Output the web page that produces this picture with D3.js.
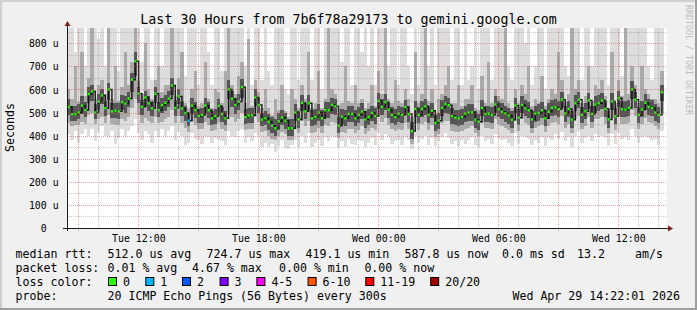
<!DOCTYPE html>
<html>
<head>
<meta charset="utf-8">
<script src="https://cdn.jsdelivr.net/npm/d3@7"></script>
<style>
  body { margin: 0; background: #f0f0f0; }
  svg text { font-family: "DejaVu Sans Mono", monospace; fill: #000; }
</style>
</head>
<body>
<div id="chart"></div>
<script>
// median rtt per 10 minute step (us), from Tue 08:26
const medianUs = [
  525,493,493,500,530,511,580,591,500,548, 574,519,600,505,508,505,545,539,560,642,
  722,582,525,565,540,519,581,510,532,542, 560,617,520,570,518,498,465,530,511,485,
  490,530,510,475,484,528,494,475,600,560, 533,547,610,480,487,488,565,533,469,475,
  460,443,432,462,478,465,432,432,500,470, 542,505,540,475,480,500,475,510,510,533,
  527,443,482,475,494,494,475,490,504,470, 480,498,485,550,525,545,512,490,480,495,
  490,523,494,420,515,490,515,527,490,508, 455,465,520,537,532,485,478,475,480,495,
  500,501,469,460,520,494,495,490,535,515, 504,496,487,469,530,478,533,518,510,470,
  495,498,510,475,503,520,523,515,556,496, 515,469,540,556,490,505,552,494,535,540,
  552,516,470,548,484,562,515,513,520,600, 556,490,513,542,525,520,500,490,588
];
// smoke: slowest ping per step
const pingMax = [
  900,900,760,900,900,700,900,900,900,820, 900,700,900,900,900,680,900,900,900,900,
  900,900,720,900,900,640,900,900,700,900, 900,900,900,900,900,660,900,900,900,620,
  900,900,760,620,900,900,680,900,900,900, 900,900,900,700,900,620,900,900,640,900,
  680,620,900,900,900,600,580,900,900,640, 900,900,900,640,900,900,600,900,900,900,
  900,900,720,900,900,620,900,900,760,900, 700,900,620,900,900,900,700,900,900,620,
  900,900,700,580,900,620,900,900,700,900, 620,900,900,900,900,640,900,900,620,900,
  640,700,900,600,900,900,900,640,900,900, 900,900,700,640,900,900,900,800,900,620,
  700,900,900,600,900,900,900,900,900,700, 660,900,900,900,640,900,900,700,900,900,
  900,900,620,900,900,900,660,900,900,900, 900,900,900,900,700,640,900,900,900
];
const ping90 = [
  600,560,700,545,760,570,650,880,560,620, 640,580,900,560,700,550,610,760,620,720,
  900,640,580,800,600,560,640,700,590,620, 620,880,570,650,760,540,520,600,680,530,
  540,720,560,520,600,590,540,680,900,620, 580,660,720,540,820,530,640,590,520,600,
  520,490,560,510,620,505,480,600,560,520, 620,560,760,520,540,680,520,560,900,600,
  580,520,540,700,550,540,620,540,560,520, 540,620,530,680,580,880,560,540,640,550,
  540,600,560,480,760,540,580,900,550,600, 500,560,580,620,700,540,540,620,530,560,
  560,620,520,510,660,540,720,540,600,570, 560,880,540,520,600,540,620,580,700,530,
  560,540,660,530,560,600,580,760,640,550, 580,900,600,640,540,570,700,550,620,600,
  640,570,520,760,540,640,570,880,580,700, 620,540,700,600,580,560,560,540,680
];
const ping75 = [
  560,530,530,535,570,545,610,620,535,580, 600,550,630,540,540,540,575,570,590,670,
  760,610,555,595,570,550,610,545,565,575, 595,650,555,600,550,530,500,565,545,515,
  520,565,545,505,515,560,525,505,640,595, 565,580,645,515,520,520,600,565,500,505,
  495,480,470,500,510,500,470,470,535,505, 575,540,575,510,515,535,510,545,545,565,
  560,480,515,510,530,530,510,525,540,505, 515,530,520,585,560,580,545,525,515,530,
  525,555,530,460,550,525,550,560,525,540, 490,500,555,570,565,520,510,510,515,530,
  535,535,505,495,555,530,530,525,570,550, 540,530,520,505,565,515,570,555,545,505,
  530,535,545,510,540,555,560,550,590,530, 550,505,575,590,525,540,585,530,570,575,
  585,550,505,585,520,595,550,550,555,635, 590,525,550,580,560,555,535,525,620
];
const ping25 = [
  490,465,465,470,495,480,540,550,470,510, 535,485,555,475,475,470,510,500,525,590,
  660,540,490,525,505,485,540,480,500,505, 525,575,485,535,485,465,440,495,475,455,
  455,495,475,445,450,490,460,445,560,525, 495,510,565,450,455,455,530,500,440,445,
  425,410,400,425,445,430,400,400,465,435, 505,470,505,440,445,465,440,475,475,495,
  490,410,445,440,460,460,440,455,470,435, 445,465,450,515,490,510,475,455,445,460,
  455,490,460,385,480,455,480,490,455,475, 420,430,485,500,495,450,445,440,445,460,
  465,465,435,425,485,460,460,455,500,480, 470,460,450,435,495,445,500,485,475,435,
  460,465,475,440,470,485,490,480,520,460, 480,435,505,520,455,470,515,460,500,505,
  515,480,435,510,450,525,480,480,485,560, 520,455,480,510,490,485,465,455,550
];
const ping10 = [
  455,440,445,445,460,450,490,500,450,470, 480,455,490,450,445,445,470,465,480,520,
  560,490,455,475,465,455,480,455,460,470, 480,510,455,485,455,435,415,460,445,430,
  430,460,445,420,425,455,430,420,500,480, 460,470,500,425,430,430,480,460,415,420,
  400,385,380,400,415,405,380,380,430,410, 465,440,465,410,415,435,410,445,440,460,
  455,390,415,410,430,430,410,425,440,405, 420,435,425,480,460,475,445,430,420,430,
  425,455,430,365,450,425,450,460,425,445, 395,405,455,465,465,420,415,415,420,430,
  435,440,410,400,455,435,435,430,470,450, 440,435,425,410,465,420,470,455,445,410,
  435,440,445,415,440,455,460,450,485,435, 450,410,470,485,430,440,480,435,470,470,
  480,450,410,475,425,490,450,450,455,510, 485,430,450,475,460,455,440,430,500
];
const pingMin = [
  405,380,420,370,405,430,400,430,375,410, 440,400,395,420,365,390,430,400,420,440,
  470,410,380,420,405,370,420,395,430,400, 420,440,380,415,400,360,370,410,385,380,
  365,400,395,370,390,380,375,360,420,400, 395,420,430,370,395,375,410,400,350,370,
  350,365,330,355,380,345,340,360,380,350, 400,370,410,350,370,380,355,395,375,400,
  395,345,375,350,385,365,360,380,375,350, 370,390,360,410,380,405,395,365,375,380,
  360,395,380,340,400,370,385,400,360,390, 355,375,395,410,390,365,375,355,380,365,
  380,395,360,350,400,375,385,365,405,390, 380,385,370,355,410,365,400,395,385,360,
  380,370,395,355,390,380,405,385,415,375, 395,350,400,420,370,390,400,375,405,395,
  400,390,355,405,365,410,385,395,380,430, 400,370,395,400,390,380,385,360,420
];
// steps with lost pings
const lossSteps = [36];
const lossCounts = [1];

const yMajorTicks = [0, 100, 200, 300, 400, 500, 600, 700, 800];
const yMinorTicks = [50, 150, 250, 350, 450, 550, 650, 750, 850];

const lossLabels = ["0", "1", "2", "3", "4-5", "6-10", "11-19", "20/20"];
const lossColors = ["#26ff00", "#00b8ff", "#0059ff", "#7e00ff", "#ff00ff", "#ff5500", "#ff0000", "#a10000"];
const lossLimits = [0, 1, 2, 3, 5, 10, 19, 20];

const rttRow = ["512.0 us avg", "724.7 us max", "419.1 us min", "587.8 us now", "0.0 ms sd", "13.2", "am/s"];
const lossRow = ["0.01 % avg", "4.67 % max", "0.00 % min", "0.00 % now"];

// ---- layout
const W = 697, H = 310;
const plotL = 67, plotR = 667, plotT = 28, plotB = 228;

const svg = d3.select("#chart").append("svg")
    .attr("width", W)
    .attr("height", H);

svg.append("rect").attr("width", W).attr("height", H).attr("fill", "#f0f0f0");
svg.append("path").attr("d", `M0,0H${W}V2H2V${H}H0Z`).attr("fill", "#cfcfcf");
svg.append("path").attr("d", `M${W},${H}H0V${H - 2}H${W - 2}V0H${W}Z`).attr("fill", "#9e9e9e");

const t0 = new Date(2026, 3, 28, 8, 26);
const t1 = new Date(2026, 3, 29, 14, 26);
const stepTime = i => new Date(t0.getTime() + i * 600000);

const x = d3.scaleTime().domain([t0, t1]).range([plotL, plotR]);
const y = d3.scaleLinear().domain([0, 866]).range([plotB, plotT]);

svg.append("rect")
    .attr("x", plotL).attr("y", plotT)
    .attr("width", plotR - plotL).attr("height", plotB - plotT)
    .attr("fill", "#ffffff");

svg.append("clipPath").attr("id", "plot")
  .append("rect")
    .attr("x", plotL).attr("y", plotT)
    .attr("width", plotR - plotL).attr("height", plotB - plotT);

const g = svg.append("g").attr("clip-path", "url(#plot)");

// smoke bands, outer to inner
const bands = [
  { lo: pingMin, hi: pingMax, color: "#dddddd" },
  { lo: ping10, hi: ping90, color: "#aaaaaa" },
  { lo: ping25, hi: ping75, color: "#555555" }
];

bands.forEach(b => {
  g.append("g")
    .selectAll("rect")
    .data(medianUs.map((d, i) => i))
    .enter().append("rect")
      .attr("x", i => x(stepTime(i)))
      .attr("width", i => x(stepTime(i + 1)) - x(stepTime(i)) + 0.05)
      .attr("y", i => y(b.hi[i]))
      .attr("height", i => y(b.lo[i]) - y(b.hi[i]))
      .attr("fill", b.color)
      .attr("shape-rendering", "crispEdges");
});

// dark core joining the medians
g.append("path")
    .datum(medianUs)
    .attr("fill", "none")
    .attr("stroke", "#141414")
    .attr("stroke-width", 1.4)
    .attr("d", d3.line()
        .x((d, i) => x(stepTime(i)) + 1.6)
        .y(d => y(d))
        .curve(d3.curveStepAfter));

// median dots coloured by loss
function lossColor(i) {
  const k = lossSteps.indexOf(i);
  if (k < 0) return lossColors[0];
  const n = lossCounts[k];
  return lossColors[lossLimits.findIndex(l => n <= l)];
}

g.append("g")
  .selectAll("rect")
  .data(medianUs)
  .enter().append("rect")
    .attr("x", (d, i) => x(stepTime(i)) + 0.6)
    .attr("width", 2.3)
    .attr("y", d => y(d) - 1.2)
    .attr("height", 2.4)
    .attr("fill", (d, i) => lossColor(i));

// grid on top of the data
const grid = svg.append("g").attr("shape-rendering", "crispEdges");
const minorHours = d3.timeHour.every(1).range(t0, t1).filter(d => d.getHours() % 3 !== 0);
const majorHours = d3.timeHour.every(3).range(t0, t1);

grid.selectAll(".hminor").data(yMinorTicks).enter().append("line")
    .attr("x1", plotL).attr("x2", plotR)
    .attr("y1", d => Math.round(y(d)) + 0.5).attr("y2", d => Math.round(y(d)) + 0.5)
    .attr("stroke", "rgba(143,143,143,0.45)").attr("stroke-dasharray", "1,1");
grid.selectAll(".vminor").data(minorHours).enter().append("line")
    .attr("y1", plotT).attr("y2", plotB + 2)
    .attr("x1", d => Math.round(x(d)) + 0.5).attr("x2", d => Math.round(x(d)) + 0.5)
    .attr("stroke", "rgba(143,143,143,0.45)").attr("stroke-dasharray", "1,1");
grid.selectAll(".hmajor").data(yMajorTicks.slice(1)).enter().append("line")
    .attr("x1", plotL).attr("x2", plotR)
    .attr("y1", d => Math.round(y(d)) + 0.5).attr("y2", d => Math.round(y(d)) + 0.5)
    .attr("stroke", "rgba(222,72,72,0.5)").attr("stroke-dasharray", "1,1");
grid.selectAll(".vmajor").data(majorHours).enter().append("line")
    .attr("y1", plotT).attr("y2", plotB + 3)
    .attr("x1", d => Math.round(x(d)) + 0.5).attr("x2", d => Math.round(x(d)) + 0.5)
    .attr("stroke", "rgba(222,72,72,0.5)").attr("stroke-dasharray", "1,1");

// axes lines and arrows
svg.append("line").attr("x1", plotL - 4).attr("x2", plotR + 2)
    .attr("y1", plotB + 0.5).attr("y2", plotB + 0.5)
    .attr("stroke", "#1a1a1a").attr("shape-rendering", "crispEdges");
svg.append("line").attr("x1", plotL + 0.5).attr("x2", plotL + 0.5)
    .attr("y1", plotB + 3).attr("y2", plotT - 2)
    .attr("stroke", "#1a1a1a").attr("shape-rendering", "crispEdges");
svg.append("path").attr("d", `M${plotR + 1},${plotB - 2.5}L${plotR + 6},${plotB + 0.5}L${plotR + 1},${plotB + 3.5}Z`)
    .attr("fill", "#7f1f1f");
svg.append("path").attr("d", `M${plotL - 2.5},${plotT - 2}L${plotL + 0.5},${plotT - 7}L${plotL + 3.5},${plotT - 2}Z`)
    .attr("fill", "#7f1f1f");

// x axis labels
const xAxis = svg.append("g")
    .attr("transform", `translate(0,${plotB})`)
    .call(d3.axisBottom(x)
        .ticks(d3.timeHour.every(6))
        .tickFormat(d3.timeFormat("%a %H:%M"))
        .tickSize(0)
        .tickPadding(0));
xAxis.select(".domain").remove();
xAxis.selectAll("text")
    .attr("y", 13.5).attr("dy", null)
    .style("font-size", "9.9px")
    .style("font-family", "'DejaVu Sans Mono', monospace");

// y axis labels
const yAxis = svg.append("g")
    .attr("transform", `translate(${plotL},0)`)
    .call(d3.axisLeft(y)
        .tickValues(yMajorTicks)
        .tickFormat(d => d === 0 ? "0" : d + " u")
        .tickSize(0)
        .tickPadding(0));
yAxis.select(".domain").remove();
yAxis.selectAll("text")
    .attr("x", d => d === 0 ? -20.3 : -8.4)
    .attr("dy", "0.36em")
    .style("font-size", "9.9px")
    .style("font-family", "'DejaVu Sans Mono', monospace");

// title and side labels
svg.append("text")
    .attr("x", W / 2).attr("y", 24)
    .attr("text-anchor", "middle")
    .style("font-size", "13.3px")
    .text("Last 30 Hours from 7b6f78a29173 to gemini.google.com");

svg.append("text")
    .attr("transform", "translate(14,127.5) rotate(-90)")
    .attr("text-anchor", "middle")
    .style("font-size", "11.6px")
    .text("Seconds");

svg.append("text")
    .attr("transform", "translate(685.5,5) rotate(90)")
    .style("font-size", "8.3px")
    .style("fill", "#bdbdbd")
    .text("RRDTOOL / TOBI OETIKER");

// legend
const legend = svg.append("g").style("font-size", "11.6px");
const row = (txt, px, py) => legend.append("text").attr("x", px).attr("y", py).text(txt);

row("median rtt:", 15.6, 258);
[107.5, 206.5, 305.5, 404.5, 502, 577, 635].forEach((px, i) => row(rttRow[i], px, 258));

row("packet loss:", 15.6, 272);
[107.5, 192, 279, 364.4].forEach((px, i) => row(lossRow[i], px, 272));

row("loss color:", 15.6, 286);
const swatchX = [108, 145.3, 182, 219.6, 256.4, 307.6, 365.3, 430.2];
lossLabels.forEach((lbl, i) => {
  legend.append("rect")
      .attr("x", swatchX[i] + 0.5).attr("y", 277.5)
      .attr("width", 8).attr("height", 8)
      .attr("fill", lossColors[i])
      .attr("stroke", "#000").attr("stroke-width", 1);
  row(lbl, swatchX[i] + 15, 286);
});

row("probe:", 15.6, 300);
row("20 ICMP Echo Pings (56 Bytes) every 300s", 107.5, 300);
legend.append("text").attr("x", 680).attr("y", 300)
    .attr("text-anchor", "end")
    .text("Wed Apr 29 14:22:01 2026");
</script>
</body>
</html>
